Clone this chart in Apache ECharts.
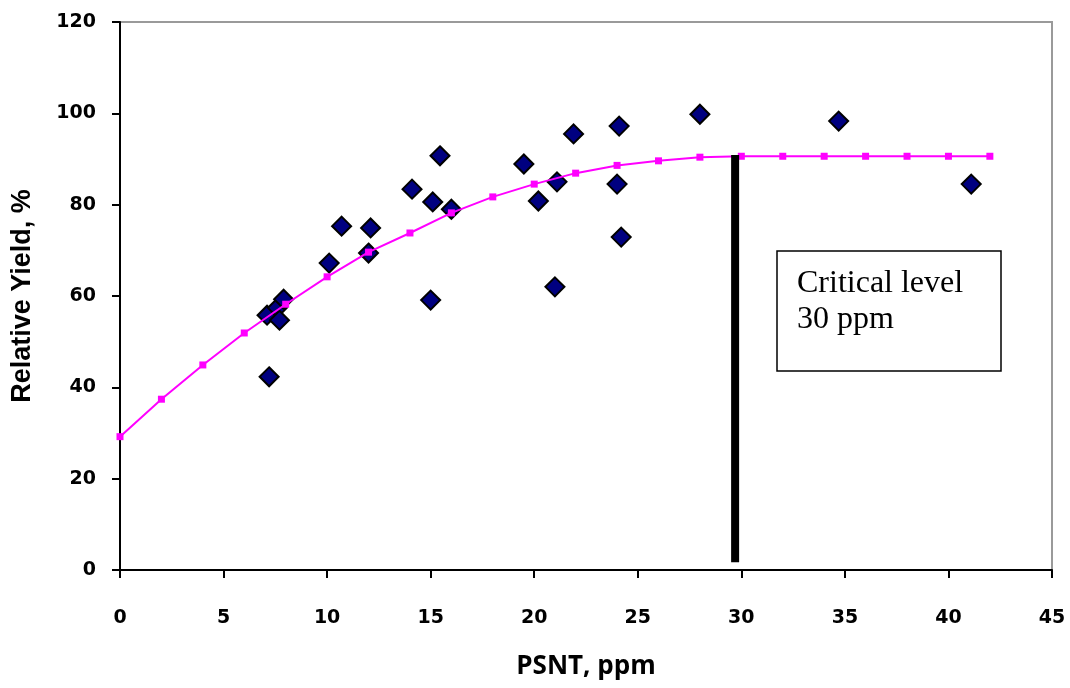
<!DOCTYPE html>
<html>
<head>
<meta charset="utf-8">
<script src="https://cdn.jsdelivr.net/npm/echarts@6/dist/echarts.min.js"></script>
<style>html,body{margin:0;padding:0;background:#fff}#c{width:1070px;height:688px}</style>
</head>
<body>
<div id="c"></div>
<script>
var obsX = [7.1, 7.2, 7.6, 7.7, 7.9, 10.1, 10.7, 12.0, 12.1, 14.1, 15.1, 15.0, 15.45, 16.0, 19.5, 20.2, 21.1, 21.0, 21.9, 24.0, 24.1, 24.2, 28.0, 34.7, 41.1];
var obsY = [55.8, 42.3, 57.4, 54.7, 59.3, 67.2, 75.3, 69.4, 74.9, 83.4, 80.6, 59.1, 90.7, 79.0, 88.9, 80.8, 85.0, 62.0, 95.5, 84.5, 97.2, 72.9, 99.8, 98.3, 84.5];
var fitX = [0, 2, 4, 6, 8, 10, 12, 14, 16, 18, 20, 22, 24, 26, 28, 30, 32, 34, 36, 38, 40, 42];
var fitY = [29.2, 37.4, 44.9, 51.9, 58.2, 64.2, 69.6, 73.8, 78.2, 81.7, 84.5, 86.9, 88.6, 89.6, 90.4, 90.6, 90.6, 90.6, 90.6, 90.6, 90.6, 90.6];
var critX = [29.7, 29.7];
var critY = [1.7, 90.9];
var xTicks = [0, 5, 10, 15, 20, 25, 30, 35, 40, 45];
var yTicks = [0, 20, 40, 60, 80, 100, 120];

function zip(a, b) { return a.map(function (v, i) { return [v, b[i]]; }); }

var chart = echarts.init(document.getElementById('c'));
var labelFont = { fontFamily: 'DejaVu Sans', fontWeight: 'bold', fontSize: 19, color: '#000' };
chart.setOption({
  animation: false,
  grid: { left: 120, right: 18, top: 22, bottom: 118, show: true, borderColor: '#9a9a9a', borderWidth: 2, backgroundColor: '#fff', containLabel: false, outerBoundsMode: 'none' },
  xAxis: {
    type: 'value', min: xTicks[0], max: xTicks[xTicks.length - 1], interval: 5,
    name: 'PSNT, ppm', nameLocation: 'middle', nameGap: 84,
    nameTextStyle: { fontFamily: 'Open Sans', fontWeight: 'bold', fontSize: 26, color: '#000' },
    axisLine: { lineStyle: { color: '#000', width: 2 } },
    axisTick: { inside: false, length: 8, lineStyle: { color: '#000', width: 2 } },
    axisLabel: Object.assign({ margin: 39 }, labelFont),
    splitLine: { show: false }
  },
  yAxis: {
    type: 'value', min: yTicks[0], max: yTicks[yTicks.length - 1], interval: 20,
    name: 'Relative Yield, %', nameLocation: 'middle', nameGap: 84, nameRotate: 90,
    nameTextStyle: { fontFamily: 'Liberation Sans', fontWeight: 'bold', fontSize: 27, color: '#000' },
    axisLine: { show: true, lineStyle: { color: '#000', width: 2 } },
    axisTick: { show: true, inside: false, length: 8, lineStyle: { color: '#000', width: 2 } },
    axisLabel: Object.assign({ margin: 24 }, labelFont),
    splitLine: { show: false }
  },
  series: [
    {
      type: 'line', data: zip(fitX, fitY), symbol: 'rect', symbolSize: 7,
      lineStyle: { color: '#ff00ff', width: 2 }, itemStyle: { color: '#ff00ff' }, z: 3
    },
    {
      type: 'scatter', data: zip(obsX, obsY), symbol: 'diamond', symbolSize: [19, 19],
      itemStyle: { color: '#000080', borderColor: '#000', borderWidth: 2, opacity: 1 }, z: 2
    },
    {
      type: 'line', data: zip(critX, critY), symbol: 'none',
      lineStyle: { color: '#000', width: 8, cap: 'butt' }, z: 4
    }
  ],
  graphic: [
    {
      type: 'rect', shape: { x: 777, y: 251, width: 224, height: 120 },
      style: { fill: '#fff', stroke: '#000', lineWidth: 1.5 }, z: 10
    },
    {
      type: 'text', left: 797, top: 266, z: 11,
      style: { text: 'Critical level\n30 ppm', fontFamily: 'Liberation Serif', fontSize: 32, lineHeight: 36, fill: '#000' }
    }
  ]
});
</script>
</body>
</html>
